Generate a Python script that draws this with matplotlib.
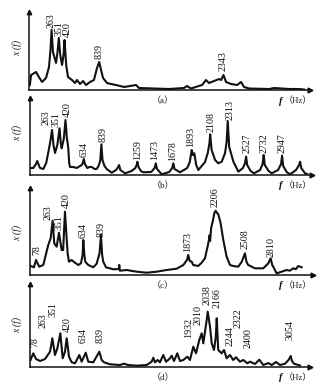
import matplotlib
matplotlib.use("Agg")
import matplotlib.pyplot as plt

W, H = 327, 386

# spectrum (a)
a_f = [0, 15, 75, 110, 148, 196, 232, 250, 263, 280, 317, 335, 351, 368, 390, 408, 420, 440, 462,
       510, 547, 571, 607, 644, 680, 728, 776, 813, 830, 839, 850, 862, 886, 934, 983, 1044, 1141,
       1285, 1321, 1500, 1684, 1866, 1900, 1950, 2084, 2132, 2168, 2229, 2290, 2315, 2343, 2374,
       2435, 2508, 2556, 2592, 2653, 2895, 2956, 3136, 3257, 3318]
a_h = [5, 15, 18, 13, 8, 12, 23, 40, 60, 38, 27, 38, 52, 35, 25, 35, 50, 25, 13,
       10, 7, 10, 6, 9, 5, 8, 10, 22, 26, 28, 24, 20, 12, 7, 6, 5, 3,
       5, 2, 1.5, 1, 2, 4, 1.5, 5, 10, 7, 9, 11, 10, 15, 8,
       6, 5, 8, 3, 1.5, 1, 2, 1, 1, 0.5]
a_lab = ["263", "351", "420", "839", "2343"]
a_lab_x = [253, 350, 455, 838, 2340]
a_lab_y = [61.7, 54, 53.3, 30.7, 19.3]

# spectrum (b)
b_f = [6, 45, 75, 91, 108, 123, 161, 195, 220, 240, 263, 280, 298, 325, 351, 365, 375, 400, 420,
       435, 453, 463, 473, 510, 551, 590, 609, 622, 634, 646, 675, 700, 726, 760, 784, 805, 825,
       839, 852, 875, 901, 959, 1010, 1035, 1045, 1060, 1115, 1192, 1235, 1250, 1259, 1272, 1300,
       1328, 1420, 1460, 1473, 1488, 1543, 1630, 1665, 1678, 1692, 1756, 1840, 1870, 1893, 1905,
       1923, 1945, 1970, 2048, 2080, 2100, 2108, 2125, 2165, 2203, 2243, 2281, 2300, 2313, 2330,
       2379, 2437, 2490, 2515, 2527, 2540, 2580, 2620, 2690, 2720, 2732, 2745, 2790, 2826, 2900,
       2935, 2947, 2960, 3000, 3040, 3110, 3145, 3157, 3170, 3215, 3240]
b_h = [7, 7, 11, 14, 10, 7, 6, 12, 23, 32, 45, 30, 22, 30, 46.7, 32, 26.7, 36, 55,
       38, 26.7, 12, 8, 8, 7, 9, 10, 12, 16, 11, 7, 8, 8, 6, 6, 9, 14,
       30.7, 15, 9, 6, 2.3, 5, 8, 10, 5, 1.7, 4, 7, 10, 13.3, 8, 4,
       2.7, 3, 7, 11.7, 6, 0.7, 3, 7, 11.7, 6, 2.7, 7, 13, 25, 20,
       21.7, 10, 5, 13, 22, 32, 40.7, 25, 15, 11.7, 13.3, 21.7, 33, 54, 28,
       13.3, 3.3, 7, 12, 18.3, 10, 4, 1.7, 5, 11, 20, 10, 4, 1.7, 5,
       11, 19.3, 9, 3, 0.7, 5, 10, 13.3, 7, 1.7, 1]
b_lab = ["263", "351", "420", "634", "839", "1259", "1473", "1678", "1893", "2108", "2313",
         "2527", "2732", "2947"]
b_lab_x = [193, 309, 447, 642, 858, 1260, 1461, 1675, 1885, 2118, 2336, 2538, 2742, 2947]
b_lab_y = [50, 48.3, 58.3, 18.3, 33.3, 15, 15, 14, 28.3, 43.3, 55, 21.7, 21.7, 21.7]

# spectrum (c)
c_f = [6, 44, 68, 106, 153, 211, 239, 262, 281, 309, 336, 367, 385, 406, 437, 453, 484, 523,
       562, 593, 612, 620, 633, 643, 678, 737, 776, 810, 826, 840, 853, 885, 970, 1036, 1040,
       1046, 1126, 1243, 1360, 1476, 1593, 1710, 1787, 1830, 1845, 1862, 1885, 1903, 1962, 2001,
       2040, 2079, 2095, 2100, 2112, 2130, 2150, 2165, 2180, 2195, 2223, 2254, 2293, 2332, 2370,
       2428, 2470, 2507, 2525, 2545, 2623, 2721, 2779, 2807, 2825, 2837, 2876, 2935, 2993, 3030,
       3071, 3100, 3129, 3168]
c_h = [9, 7.7, 15, 8.3, 10, 30, 36.7, 54.3, 31.7, 28.3, 42.3, 25, 25, 63.3, 21.7, 13.3, 15, 12.3,
       10, 11.7, 20, 35, 20, 13.3, 10, 7.7, 11.3, 22, 40, 20, 13.3, 7.7, 5.7, 6, 10,
       4.3, 5, 3.3, 2.3, 3.3, 5, 6.3, 10, 15, 20, 14, 13.3, 10, 9, 12.3,
       16.7, 31.7, 40, 34, 47, 53.3, 62, 64.3, 62, 61, 51.7, 35, 18.3, 10, 9,
       8.3, 13.3, 21.7, 13, 10, 6.7, 6.7, 11.7, 16.7, 10, 8.3, 1.7, 3.3, 5, 4.3,
       6.7, 5.7, 9, 7.7]
c_lab = ["78", "263", "351", "420", "634", "839", "1873", "2206", "2508", "2810"]
c_lab_x = [76, 206, 334, 426, 616, 826, 1841, 2160, 2513, 2810]
c_lab_y = [20, 55, 45, 66.7, 36.7, 38.3, 23.3, 68, 25.7, 18.3]

# spectrum (d)
d_f = [0, 33, 65, 112, 171, 230, 257, 288, 316, 351, 379, 406, 426, 453, 485, 524, 575, 602,
       650, 680, 739, 810, 838, 865, 936, 1053, 1100, 1151, 1250, 1368, 1426, 1446, 1465, 1497,
       1524, 1563, 1595, 1634, 1662, 1689, 1728, 1760, 1799, 1846, 1877, 1916, 1948, 1987, 2015,
       2034, 2054, 2074, 2086, 2113, 2133, 2160, 2181, 2192, 2210, 2250, 2278, 2309, 2348, 2386,
       2419, 2466, 2505, 2552, 2584, 2642, 2693, 2740, 2799, 2839, 2890, 2937, 2996, 3037, 3063,
       3078, 3101, 3152, 3172]
d_h = [7, 13.7, 8, 6, 8, 15.3, 28.7, 12, 18.7, 33.7, 8.7, 15.3, 28.7, 10.3, 4.7, 3.7, 12, 5.3,
       14.3, 5.3, 4.7, 15.3, 7, 4.7, 2.7, 2, 3.3, 2, 1.3, 2, 5.3, 9.3, 4.7, 7,
       4.7, 12, 5.3, 8, 11.3, 6, 13.7, 6, 7, 10.3, 7, 20.3, 13.7, 27, 33.7,
       23.7, 35.3, 47, 55.3, 40.3, 23.7, 17, 30, 48.7, 17, 13.7, 17, 8.7, 12, 7,
       9.7, 5.3, 7, 3.7, 5.3, 3, 7.3, 2, 4, 2, 5, 2, 3.3, 7, 11,
       6, 3.3, 2, 1.5]
d_lab = ["78", "263", "351", "420", "634", "839", "1932", "2010", "2038", "2166", "2244",
         "2322", "2400", "3054"]
d_lab_x = [47, 151, 265, 435, 618, 814, 1863, 1971, 2081, 2191, 2345, 2446, 2560, 3051]
d_lab_y = [20.3, 38.7, 50.3, 35.3, 23.7, 23.7, 28.7, 42, 62, 58.7, 21.3, 38.7, 18.7, 27]

fig = plt.figure(figsize=(W / 100, H / 100), dpi=100)
fig.patch.set_facecolor("white")

serif = ["Liberation Serif", "DejaVu Serif"]
cjk = ["Liberation Serif", "Noto Sans CJK SC"]


def panel(name, f, h, lab, lab_x, lab_y, y_top, y_base, x0, x1, xscale):
    hgt = y_base - y_top
    ax = fig.add_axes([x0 / W, 1 - y_base / H, (x1 - x0) / W, hgt / H])
    ax.plot(f, h, color="#111111", lw=1.5, solid_joinstyle="round")
    ax.set_xlim(xscale[0], xscale[1])
    ax.set_ylim(0, hgt)
    for s in ["top", "right"]:
        ax.spines[s].set_visible(False)
    for s in ["left", "bottom"]:
        ax.spines[s].set_linewidth(1.1)
        ax.spines[s].set_color("#111111")
    ax.set_xticks([])
    ax.set_yticks([])
    ax.patch.set_alpha(0)
    ax.plot(0, 1, marker="^", ms=3.2, color="#111111", transform=ax.transAxes, clip_on=False)
    ax.plot(1, 0, marker=">", ms=3.5, color="#111111", transform=ax.transAxes, clip_on=False)
    for t, lx, ly in zip(lab, lab_x, lab_y):
        ax.text(lx, ly, t, rotation=90, ha="center", va="bottom", fontsize=7.2,
                family=serif, color="#111111", clip_on=False)
    # axis captions
    fig.text(17 / W, 1 - (y_base - 42) / H, "x (f)", rotation=90, ha="center", va="center",
             fontsize=7, family=serif, style="italic", color="#222222")
    fig.text(163 / W, 1 - (y_base + 11) / H, "\uff08" + name + "\uff09", ha="center",
             va="center", fontsize=6.5, family=cjk, color="#222222")
    fig.text(281 / W, 1 - (y_base + 11) / H, "f", ha="center", va="center", fontsize=7.5,
             family=serif, style="italic", weight="bold", color="#111111")
    fig.text(284 / W, 1 - (y_base + 11) / H, "\uff08Hz\uff09", ha="left", va="center",
             fontsize=6.5, family=cjk, color="#222222")


panel("a", a_f, a_h, a_lab, a_lab_x, a_lab_y, 12, 90, 29, 310, (-10, 3390))
panel("b", b_f, b_h, b_lab, b_lab_x, b_lab_y, 98, 175, 30, 312, (6, 3296))
panel("c", c_f, c_h, c_lab, c_lab_x, c_lab_y, 188, 275, 30, 313, (-2, 3301))
panel("d", d_f, d_h, d_lab, d_lab_x, d_lab_y, 284, 367, 30, 310, (-6, 3290))

fig.savefig("out.png", dpi=100, facecolor="white")
